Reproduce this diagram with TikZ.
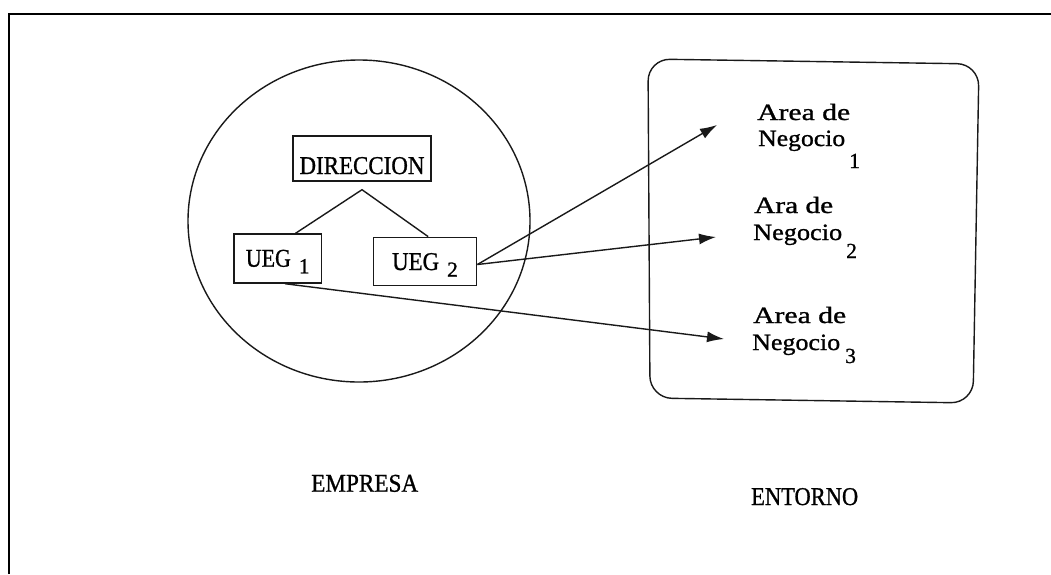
\documentclass[tikz,border=0pt]{standalone}
\usepackage{graphicx}
\usepackage{fontspec}
\setmainfont{Liberation Serif}[FakeBold=1]
\usetikzlibrary{arrows.meta,calc}

% set a word to a given width, slightly taller than its natural height
\newcommand{\fitto}[2]{\resizebox{#1}{1.08\height}{#2}}

\tikzset{
  ink/.style={draw=black!90, line width=1.4pt},
  unitbox/.style={ink, inner sep=0pt, align=center, font=\fontsize{23.7}{26}\selectfont},
  flow/.style={ink, -{Latex[length=17pt,width=11pt]}},
  caption/.style={anchor=base west, inner sep=0pt, font=\fontsize{23.7}{26}\selectfont},
  arealine/.style={anchor=base west, inner sep=0pt, font=\fontsize{21.6}{24}\selectfont},
  subnum/.style={anchor=base west, inner sep=0pt, font=\fontsize{21.5}{24}\selectfont}
}

\begin{document}
\begin{tikzpicture}[x=1pt, y=-1pt]
  \useasboundingbox (0,0) rectangle (1051,574);

  % page frame (top and left rules)
  \draw[line width=2.2pt, black] (9,574) -- (9,14) -- (1051,14);

  % the firm
  \draw[ink] (359,221) ellipse [x radius=171, y radius=161];

  % the environment
  \draw[ink, rounded corners=22pt] (648,59) -- (979,64) -- (973,403) -- (650,398) -- cycle;

  % organisation chart
  \node[unitbox, minimum width=138pt, minimum height=45pt, text height=38pt, text depth=7pt]
    (dir) at (362,158.5) {\fitto{125pt}{DIRECCION}};
  \node[unitbox, minimum width=87.5pt, minimum height=49pt, text height=32.7pt, text depth=16.3pt]
    (u1) at (277.75,258.5) {\fitto{45pt}{UEG}\hspace{8pt}\raisebox{-6.6pt}{\fontsize{21.5}{24}\selectfont 1}};
  \node[unitbox, minimum width=103.4pt, minimum height=48.4pt, text height=32.7pt, text depth=15.7pt]
    (u2) at (425,261.5) {\fitto{47pt}{UEG}\hspace{8pt}\raisebox{-6.7pt}{\fontsize{21.5}{24}\selectfont 2}};

  \coordinate (apex) at ([yshift=-8pt]dir.south);
  \draw[ink] ($(u1.north west)!0.70!(u1.north east)$) -- (apex)
             -- ($(u2.north west)!0.53!(u2.north east)$);

  % business areas
  \coordinate (t1) at (717,125);
  \coordinate (t2) at (716,237);
  \coordinate (t3) at (724,339);

  \draw[flow] ([yshift=-3pt]u2.east) -- (t1);
  \draw[flow] ([yshift=-3pt]u2.east) -- (t2);
  \draw[flow] ($(u1.south west)!0.58!(u1.south east)$) -- (t3);

  \node[arealine] (a1a) at (757,120) {\fitto{93pt}{Area de}};
  \node[arealine] (a1b) at (758,146) {\fitto{87pt}{Negocio}};
  \node[subnum]   (a1n) at (849,168) {1};

  \node[arealine] (a2a) at (754,213) {\fitto{79pt}{Ara de}};
  \node[arealine] (a2b) at (753,240) {\fitto{89pt}{Negocio}};
  \node[subnum]   (a2n) at (846,258) {2};

  \node[arealine] (a3a) at (753,323) {\fitto{93pt}{Area de}};
  \node[arealine] (a3b) at (752,350) {\fitto{88pt}{Negocio}};
  \node[subnum]   (a3n) at (845,363) {3};

  % captions
  \node[caption] (emp) at (311,491.7) {\fitto{107pt}{EMPRESA}};
  \node[caption] (ent) at (751,505) {\fitto{107pt}{ENTORNO}};
\end{tikzpicture}
\end{document}
